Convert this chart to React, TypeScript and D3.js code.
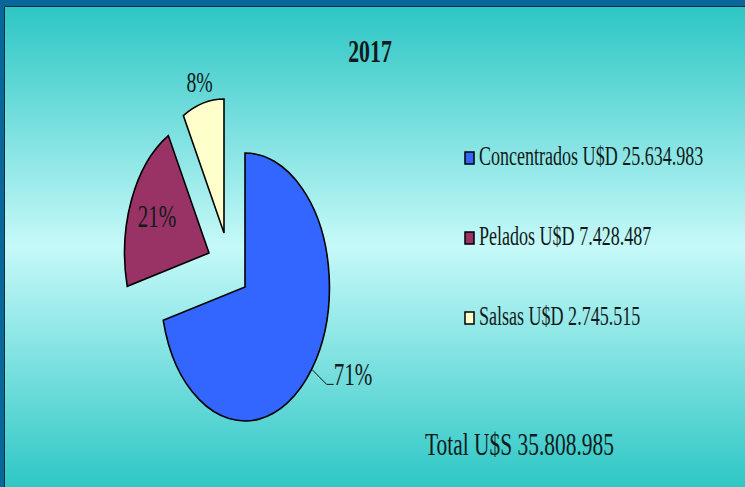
import React, {useEffect, useRef} from "react";
import * as d3 from "d3";

const categories = ["Concentrados", "Pelados", "Salsas"];
const amounts = ["25.634.983", "7.428.487", "2.745.515"];
const shares = [71, 21, 8];
const percentLabels = ["71%", "21%", "8%"];
const colours = ["#3366ff", "#993366", "#ffffcc"];
const title = "2017";
const totalLabel = "Total U$S 35.808.985";

const W = 745;
const H = 487;
const SX = 0.63; // the picture is squeezed horizontally

const App = () => {
    const ref = useRef<SVGSVGElement>(null);

    useEffect(() => {
        const svg = d3.select(ref.current);
        svg.selectAll("*").remove();

        const defs = svg.append("defs");
        const grad = defs.append("linearGradient").attr("id", "bg").attr("x1", 0).attr("y1", 0).attr("x2", 0).attr("y2", 1);
        grad.append("stop").attr("offset", "0%").attr("stop-color", "#2cc6c4");
        grad.append("stop").attr("offset", "50%").attr("stop-color", "#c6f9f9");
        grad.append("stop").attr("offset", "100%").attr("stop-color", "#2ec7c5");

        svg.append("rect").attr("width", W).attr("height", H).attr("fill", "#0a679a");
        svg.append("rect").attr("x", 4).attr("y", 6).attr("width", W - 4).attr("height", H - 6)
            .attr("fill", "url(#bg)");
        // thin dark edge on top and left only
        svg.append("path").attr("d", `M4.5,${H} L4.5,6.5 L${W},6.5`)
            .attr("fill", "none").attr("stroke", "#0b2f3a").attr("stroke-width", 1);

        const squeezedText = (g, x, y, txt, size, weight = "normal", anchor = "start") => {
            g.append("text")
                .attr("transform", `translate(${x},${y}) scale(${SX * 1.08},1)`)
                .attr("text-anchor", anchor)
                .attr("font-family", "'Liberation Serif', 'DejaVu Serif', serif")
                .attr("font-size", size)
                .attr("font-weight", weight)
                .attr("fill", "#111a1a")
                .text(txt);
        };

        squeezedText(svg, 370, 62, title, 32, "bold", "middle");

        // pie
        const r = 134;
        const cx = 245;
        const cy = 287;
        const explode = [[0, 0], [-36, -34], [-21, -54]];

        const pie = d3.pie<number>().sort(null).value(d => d);
        const arcs = pie(shares);
        const arc = d3.arc<d3.PieArcDatum<number>>().innerRadius(0).outerRadius(r);

        const pt = (a: number, rad: number) => [Math.sin(a) * rad * SX, -Math.cos(a) * rad];

        arcs.forEach((d, i) => {
            const g = svg.append("g").attr("transform", `translate(${cx + explode[i][0]},${cy + explode[i][1]})`);
            g.append("path")
                .attr("d", arc(d))
                .attr("transform", `scale(${SX},1)`)
                .attr("fill", colours[i])
                .attr("stroke", "#000")
                .attr("stroke-width", 1.6)
                .attr("vector-effect", "non-scaling-stroke")
                .attr("stroke-linejoin", "miter");

            const mid = (d.startAngle + d.endAngle) / 2;
            if (i === 0) {
                const p1 = pt(mid, r + 1);
                const p2 = pt(mid, r + 20);
                g.append("polyline")
                    .attr("points", `${p1[0]},${p1[1]} ${p2[0] + 5},${p2[1] + 3} ${p2[0] + 12},${p2[1] + 3}`)
                    .attr("fill", "none").attr("stroke", "#111").attr("stroke-width", 1);
                squeezedText(g, p2[0] + 12, p2[1] + 4, percentLabels[i], 31);
            } else if (i === 1) {
                const p = pt(mid, r * 0.67);
                squeezedText(g, p[0], p[1] + 10, percentLabels[i], 31, "normal", "middle");
            } else {
                const p = pt(mid, r * 1.16);
                squeezedText(g, p[0], p[1] + 10, percentLabels[i], 29, "normal", "middle");
            }
        });

        // legend
        const legendY = d3.scalePoint<string>().domain(categories).range([165, 325]);
        categories.forEach((c, i) => {
            const y = legendY(c) as number;
            svg.append("rect")
                .attr("x", 465).attr("y", y - 13).attr("width", 9).attr("height", 12)
                .attr("fill", colours[i]).attr("stroke", "#000").attr("stroke-width", 1.5);
            squeezedText(svg, 479, y, `${c} U$D ${amounts[i]}`, 26.5);
        });

        squeezedText(svg, 425, 455, totalLabel, 31.5);
    }, []);

    return (
        <svg width={W} height={H} ref={ref} style={{display: "block", position: "absolute", left: 0, top: 0}}/>
    );
};

export default App;
